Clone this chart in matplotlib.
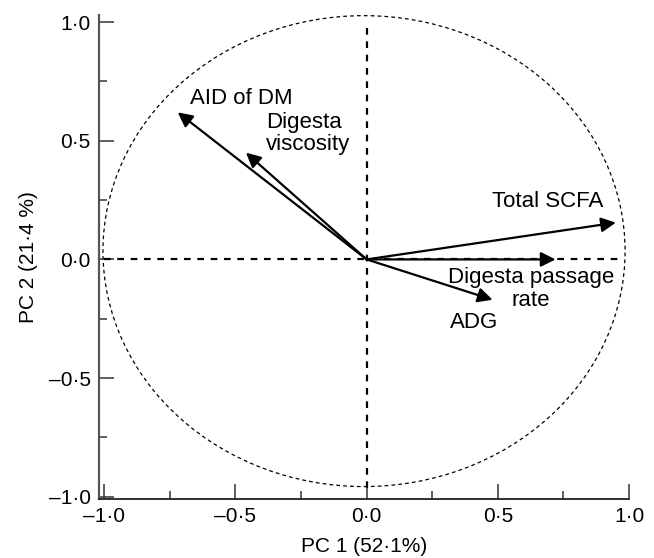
import numpy as np
import matplotlib.pyplot as plt
from matplotlib.patches import Ellipse
from matplotlib.ticker import FixedLocator, MultipleLocator

plt.rcParams['font.family'] = ['Liberation Sans', 'DejaVu Sans']

# loadings of each variable on PC1 / PC2
variables = ["AID of DM", "Digesta\nviscosity", "Total SCFA", "Digesta passage\nrate", "ADG"]
pc1 = [-0.72, -0.46, 0.95, 0.72, 0.48]
pc2 = [0.62, 0.45, 0.155, 0.0, -0.17]

# where each label sits
label_x = [-0.675, -0.385, 0.69, 0.625, 0.41]
label_y = [0.68, 0.53, 0.245, -0.125, -0.265]
label_ha = ["left", "left", "center", "center", "center"]

ticks = [-1.0, -0.5, 0.0, 0.5, 1.0]
tick_labels = ["\u20131\u00b70", "\u20130\u00b75", "0\u00b70", "0\u00b75", "1\u00b70"]

fig = plt.figure(figsize=(6.54, 5.58), dpi=100)
ax = fig.add_axes([0.1514, 0.1057, 0.8104, 0.8673])

# correlation circle
circ = Ellipse((-0.01, 0.035), 1.99, 1.985, fill=False, ls=(0, (3, 2.5)),
               lw=0.9, color="black")
ax.add_patch(circ)

# reference lines through the origin
ax.plot([0, 0], [-0.965, 0.995], ls=(0, (3, 3)), lw=1.6, color="black")
ax.plot([-1.0, 0.98], [0, 0], ls=(0, (3, 3)), lw=1.6, color="black")

for i in range(len(variables)):
    ax.annotate("", xy=(pc1[i], pc2[i]), xytext=(0, 0),
                arrowprops=dict(arrowstyle="-|>", color="black", lw=1.6,
                                mutation_scale=22, shrinkA=0, shrinkB=0))
    ax.text(label_x[i], label_y[i], variables[i], ha=label_ha[i], va="center",
            fontsize=16, linespacing=1.1)

ax.set_xlim(-1.02, 1.0)
ax.set_ylim(-1.01, 1.03)

ax.xaxis.set_major_locator(FixedLocator(ticks))
ax.yaxis.set_major_locator(FixedLocator(ticks))
ax.xaxis.set_minor_locator(MultipleLocator(0.25))
ax.yaxis.set_minor_locator(MultipleLocator(0.25))
ax.set_xticklabels(tick_labels)
ax.set_yticklabels(tick_labels)

ax.tick_params(which="major", direction="in", length=11, width=1.1, labelsize=15,
               color="#333333", pad=6)
ax.tick_params(which="minor", direction="in", length=6, width=1.1, color="#333333")

for side in ["top", "right"]:
    ax.spines[side].set_visible(False)
ax.spines["left"].set_color("#555555")
ax.spines["left"].set_linewidth(1.6)
ax.spines["bottom"].set_color("#222222")
ax.spines["bottom"].set_linewidth(1.3)

ax.set_xlabel("PC 1 (52\u00b71%)", fontsize=15, labelpad=8)
ax.set_ylabel("PC 2 (21\u00b74 %)", fontsize=15, labelpad=8)

fig.savefig("out.png", dpi=100)
